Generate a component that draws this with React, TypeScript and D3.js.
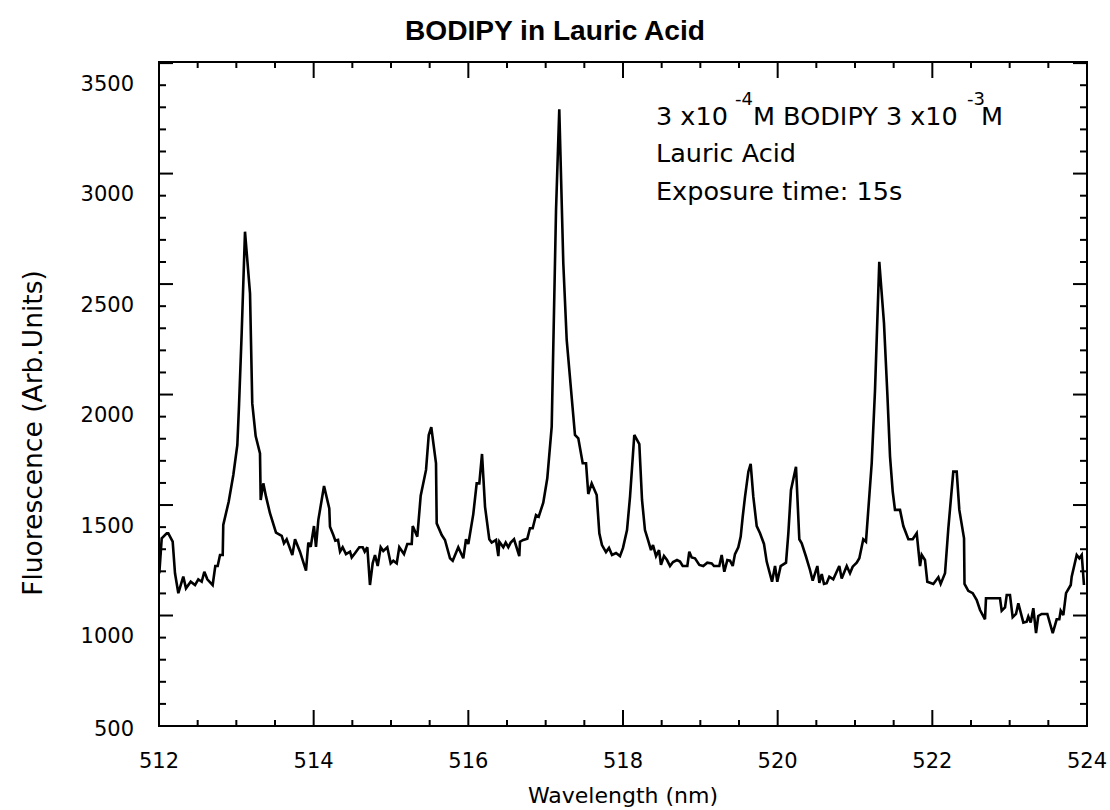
import React from 'react';
import * as d3 from 'd3';

const wavelength = [
  512.004, 512.035, 512.100, 512.120, 512.177, 512.207, 512.250, 512.314, 512.349, 512.410,
  512.466, 512.508, 512.552, 512.586, 512.625, 512.694, 512.728, 512.759, 512.789, 512.824,
  512.831, 512.901, 512.961, 513.013, 513.034, 513.069, 513.112, 513.177, 513.206, 513.250,
  513.306, 513.315, 513.349, 513.384, 513.435, 513.513, 513.587, 513.616, 513.651, 513.724,
  513.759, 513.823, 513.901, 513.931, 513.962, 514.004, 514.030, 514.060, 514.134, 514.202,
  514.211, 514.254, 514.280, 514.315, 514.341, 514.375, 514.418, 514.470, 514.492, 514.534,
  514.590, 514.634, 514.660, 514.694, 514.728, 514.763, 514.793, 514.828, 514.867, 514.900,
  514.952, 514.996, 515.030, 515.074, 515.107, 515.168, 515.211, 515.268, 515.281, 515.340,
  515.384, 515.453, 515.488, 515.521, 515.582, 515.591, 515.656, 515.698, 515.763, 515.798,
  515.870, 515.935, 515.970, 516.000, 516.064, 516.108, 516.142, 516.177, 516.216, 516.271,
  516.302, 516.358, 516.388, 516.401, 516.452, 516.483, 516.517, 516.548, 516.591, 516.659,
  516.668, 516.711, 516.763, 516.797, 516.832, 516.875, 516.910, 516.969, 517.021, 517.078,
  517.134, 517.176, 517.228, 517.272, 517.379, 517.422, 517.479, 517.522, 517.551, 517.595,
  517.660, 517.694,
  517.728, 517.780, 517.819, 517.858, 517.910, 517.961, 518.000, 518.052, 518.091, 518.146,
  518.211, 518.246, 518.284, 518.323, 518.362, 518.388, 518.427, 518.466, 518.491, 518.530,
  518.569, 518.608, 518.647, 518.698, 518.737,
  518.772, 518.832, 518.857, 518.888, 518.931, 518.987, 519.038, 519.090, 519.147, 519.177,
  519.245, 519.276, 519.310, 519.349, 519.384, 519.419, 519.448, 519.491, 519.522, 519.548,
  519.578, 519.621, 519.651, 519.685, 519.729, 519.772, 519.823, 519.858, 519.927, 519.966,
  519.995, 520.039, 520.108, 520.138, 520.172, 520.237, 520.280, 520.311, 520.367, 520.418,
  520.453, 520.513, 520.539, 520.570, 520.599, 520.634, 520.668, 520.719, 520.763, 520.797,
  520.828, 520.893, 520.935, 520.970, 521.022, 521.056, 521.107, 521.142, 521.172, 521.216,
  521.259, 521.314, 521.375, 521.418, 521.453, 521.488, 521.517, 521.582, 521.625, 521.690,
  521.746, 521.798, 521.841, 521.863, 521.905, 521.935, 522.013, 522.078, 522.108, 522.164,
  522.207, 522.271, 522.315, 522.349, 522.410, 522.416, 522.465, 522.522, 522.574, 522.617,
  522.681, 522.694, 522.875, 522.897, 522.940, 522.962, 523.004, 523.039, 523.082, 523.112,
  523.177, 523.220, 523.241, 523.272, 523.306, 523.341, 523.370, 523.414, 523.487, 523.557,
  523.608, 523.642, 523.660, 523.694, 523.729, 523.790, 523.802, 523.867, 523.901, 523.932,
  523.961,
];

const intensity = [
  1281, 1439, 1462, 1462, 1424, 1281, 1191, 1266, 1213, 1243,
  1228, 1254, 1243, 1288, 1254, 1228, 1314, 1314, 1364, 1364,
  1500, 1605, 1726, 1862, 2035, 2367, 2827, 2548, 2050, 1902,
  1824, 1613, 1688, 1628, 1553, 1465, 1450, 1417, 1435, 1364,
  1435, 1379, 1293, 1420, 1401, 1495, 1401, 1522, 1676, 1575,
  1492, 1454, 1429, 1432, 1379, 1399, 1368, 1379, 1353, 1372,
  1399, 1399, 1379, 1399, 1228, 1326, 1364, 1314, 1399, 1382,
  1399, 1326, 1338, 1326, 1399, 1368, 1414, 1414, 1495, 1447,
  1632, 1749, 1907, 1942, 1779, 1507, 1454, 1432, 1349, 1338,
  1399, 1349, 1435, 1414, 1549, 1688, 1688, 1821, 1582, 1435,
  1420, 1432, 1359, 1424, 1399, 1420, 1399, 1420, 1435, 1359,
  1424, 1432, 1438, 1485, 1485, 1545, 1537, 1601, 1711, 1945,
  2925, 3381, 2684, 2337, 1907, 1892, 1779, 1779, 1640, 1688,
  1635, 1462,
  1409, 1377, 1396, 1364, 1373, 1359, 1396, 1477, 1628, 1907,
  1866, 1613, 1477, 1432, 1386, 1409, 1359, 1386, 1319, 1359,
  1341, 1314, 1332, 1341, 1334,
  1314, 1314, 1379, 1353, 1349, 1319, 1314, 1329, 1326, 1314,
  1314, 1364, 1288, 1341, 1338, 1314, 1368, 1399, 1447, 1537,
  1628, 1741, 1776, 1628, 1495, 1462, 1414, 1334, 1243, 1314,
  1243, 1314, 1329, 1462, 1658, 1763, 1435, 1417, 1356, 1296,
  1248, 1314, 1238, 1278, 1233, 1236, 1266, 1254, 1288, 1314,
  1258, 1314, 1281, 1311, 1329, 1349, 1435, 1424, 1568, 1779,
  2111, 2691, 2412, 2096, 1809, 1650, 1568, 1568, 1495, 1435,
  1435, 1462, 1314, 1364, 1341, 1243, 1233, 1263, 1233, 1281,
  1485, 1741, 1741, 1568, 1439, 1233, 1202, 1191, 1160, 1115,
  1073, 1168, 1168, 1112, 1127, 1183, 1183, 1082, 1097, 1145,
  1058, 1062, 1085, 1058, 1123, 1010, 1088, 1097, 1097, 1010,
  1073, 1073, 1112, 1092, 1191, 1228, 1266, 1364, 1349, 1364,
  1228,
];

const xTickLabels = [512, 514, 516, 518, 520, 522, 524];
const yTickLabels = [500, 1000, 1500, 2000, 2500, 3000, 3500];

const FONT = "'DejaVu Sans', Verdana, sans-serif";

export default function App() {
  const W = 1110, H = 810;
  const left = 159, right = 1087, top = 62, bottom = 726;
  const x = d3.scaleLinear().domain([512, 524]).range([left, right]);
  const y = d3.scaleLinear().domain([590, 3595]).range([bottom, top]);

  const n = Math.min(wavelength.length, intensity.length);
  const data: [number, number][] = d3.range(n).map(i => [wavelength[i], intensity[i]]);
  const path = d3.line<[number, number]>().x(d => x(d[0])).y(d => y(d[1]))(data) || '';

  const yMajor = d3.range(590, 3596, 500);
  const yMinor = d3.range(590, 3596, 100).filter(v => (v - 590) % 500 !== 0);
  const xMajor = d3.range(0, 7).map(i => 512 + i * 2);
  const xMinor = d3.range(0, 25).map(i => 512 + i * 0.5).filter(v => Math.abs(v % 2) > 1e-6);

  const ticks: JSX.Element[] = [];
  yMajor.forEach((v, i) => {
    const yy = y(v);
    ticks.push(<line key={'ylM' + i} x1={left} x2={left + 14} y1={yy} y2={yy} />);
    ticks.push(<line key={'yrM' + i} x1={right} x2={right - 14} y1={yy} y2={yy} />);
  });
  yMinor.forEach((v, i) => {
    const yy = y(v);
    ticks.push(<line key={'ylm' + i} x1={left} x2={left + 7} y1={yy} y2={yy} />);
    ticks.push(<line key={'yrm' + i} x1={right} x2={right - 7} y1={yy} y2={yy} />);
  });
  xMajor.forEach((v, i) => {
    const xx = x(v);
    ticks.push(<line key={'xbM' + i} x1={xx} x2={xx} y1={bottom} y2={bottom - 16} />);
    ticks.push(<line key={'xtM' + i} x1={xx} x2={xx} y1={top} y2={top + 16} />);
  });
  xMinor.forEach((v, i) => {
    const xx = x(v);
    ticks.push(<line key={'xbm' + i} x1={xx} x2={xx} y1={bottom} y2={bottom - 6} />);
    ticks.push(<line key={'xtm' + i} x1={xx} x2={xx} y1={top} y2={top + 6} />);
  });

  return (
    <svg width={W} height={H} style={{ position: 'absolute', left: 0, top: 0, background: '#fff' }}
      xmlns="http://www.w3.org/2000/svg">
      <rect x={0} y={0} width={W} height={H} fill="#fff" />
      <text x={555} y={40} textAnchor="middle" fontFamily="'Liberation Sans', Arial, sans-serif"
        fontWeight="bold" fontSize={27} textLength={300} lengthAdjust="spacingAndGlyphs" fill="#000">
        BODIPY in Lauric Acid
      </text>

      <g stroke="#000" strokeWidth={2} fill="none">
        {ticks}
        <rect x={left} y={top} width={right - left} height={bottom - top} />
      </g>

      <path d={path} fill="none" stroke="#000" strokeWidth={2.6} strokeLinejoin="miter" strokeMiterlimit={3} />

      <g fontFamily={FONT} fontSize={21} fill="#000">
        {yTickLabels.map(v => {
          const yy = v < y.domain()[0] ? bottom + 2 : y(v);
          return <text key={'yl' + v} x={134} y={yy + 7.6} textAnchor="end">{v}</text>;
        })}
        {xTickLabels.map(v => (
          <text key={'xl' + v} x={x(v)} y={767.5} textAnchor="middle">{v}</text>
        ))}
      </g>

      <text x={(left + right) / 2} y={803} textAnchor="middle" fontFamily={FONT} fontSize={22} fill="#000">
        Wavelength (nm)
      </text>
      <text transform="translate(42,433) rotate(-90)" textAnchor="middle" fontFamily={FONT} fontSize={26.5}
        fill="#000">
        Fluorescence (Arb.Units)
      </text>

      <g fontFamily={FONT} fill="#000">
        <text x={656} y={125} fontSize={25.5}>3 x10</text>
        <text x={735} y={105} fontSize={18}>-4</text>
        <text x={753} y={125} fontSize={25.5}>M BODIPY 3 x10</text>
        <text x={967} y={105} fontSize={18}>-3</text>
        <text x={981} y={125} fontSize={25.5}>M</text>
        <text x={656} y={161.7} fontSize={25.5}>Lauric Acid</text>
        <text x={656} y={200} fontSize={25.5}>Exposure time: 15s</text>
      </g>
    </svg>
  );
}
